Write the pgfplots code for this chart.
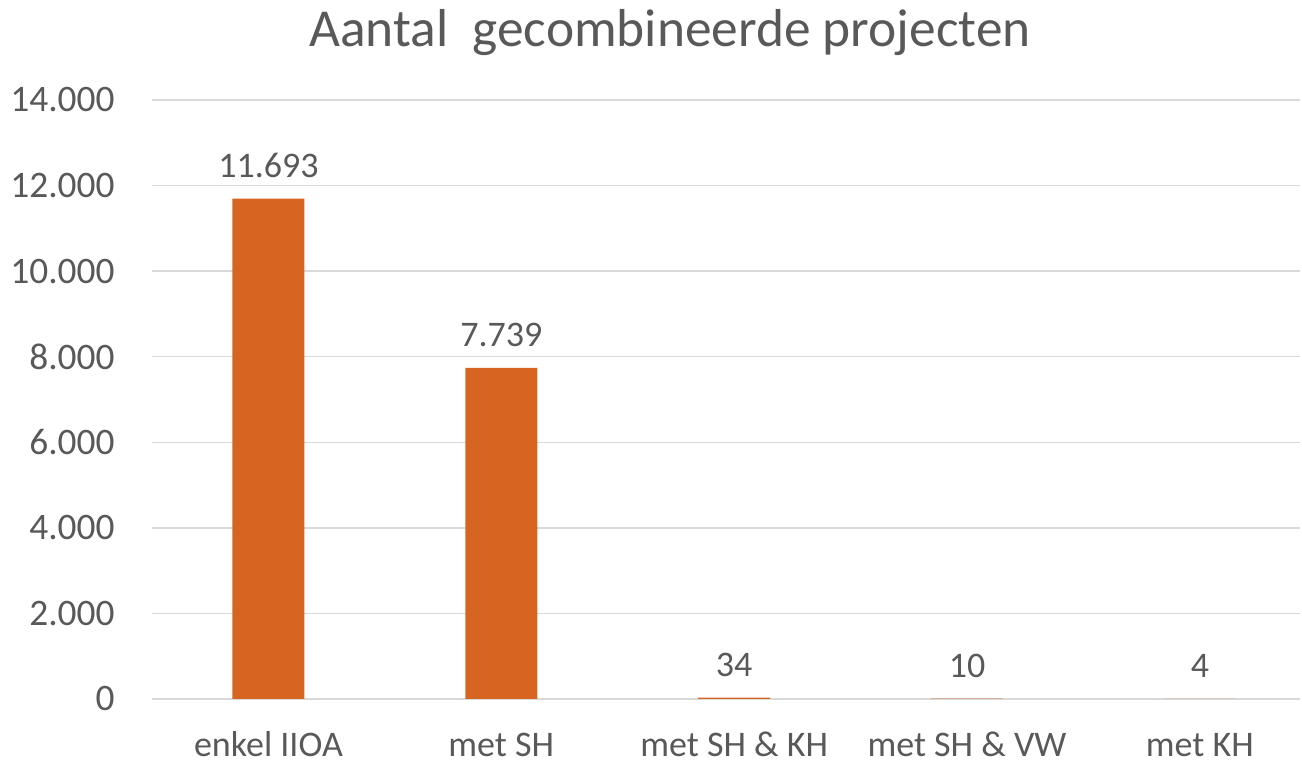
\documentclass[border=0pt]{standalone}
\usepackage{pgfplots}
\pgfplotsset{compat=1.18}
\usepackage{fontspec}
\setmainfont{Carlito}
\definecolor{barorange}{HTML}{D86422}
\definecolor{txtgray}{HTML}{595959}
\definecolor{gridgray}{HTML}{D9D9D9}
\begin{document}
\begin{tikzpicture}
\useasboundingbox (-76pt,-32pt) rectangle (575pt,349.5pt);
\begin{axis}[
  at={(0,0)}, anchor=south west,
  scale only axis,
  width=574pt, height=299.5pt,
  xmin=-0.5, xmax=4.43,
  ymin=0, ymax=14000,
  clip=false,
  ybar, bar width=36pt, bar shift=0pt,
  xtick={0,1,2,3,4},
  xticklabels={enkel IIOA, met SH, met SH \& KH, met SH \& VW, met KH},
  ytick={0,2000,4000,6000,8000,10000,12000,14000},
  major tick length=0pt,
  axis y line*=left,
  y axis line style={draw=none},
  axis x line*=bottom,
  x axis line style={draw=gridgray, line width=0.75pt, -},
  ymajorgrids,
  grid style={draw=gridgray, line width=0.75pt},
  /pgf/number format/assume math mode=true,
  /pgf/number format/.cd, 1000 sep={.}, fixed, precision=0,
  /pgfplots/.cd,
  scaled y ticks=false,
  yticklabel style={font=\fontsize{18.7}{22}\selectfont, text=txtgray, inner sep=0pt, anchor=east, xshift=-18.5pt},
  xticklabel style={font=\fontsize{18}{21}\selectfont, text=txtgray, inner sep=0pt, anchor=north, yshift=-16.5pt, text height=12pt, text depth=1.5pt},
  nodes near coords,
  every node near coord/.append style={font=\fontsize{18}{21}\selectfont, text=txtgray, inner sep=0pt, anchor=base, yshift=10.7pt},
]
\addplot[fill=barorange, draw=none] coordinates {(0,11693) (1,7739) (2,34) (3,10) (4,4)};
\node[anchor=base, text=txtgray, font=\fontsize{26.7}{31}\selectfont, inner sep=0pt] at (rel axis cs:0.4512,1.0885) {Aantal\ \ gecombineerde projecten};
\end{axis}
\end{tikzpicture}
\end{document}
